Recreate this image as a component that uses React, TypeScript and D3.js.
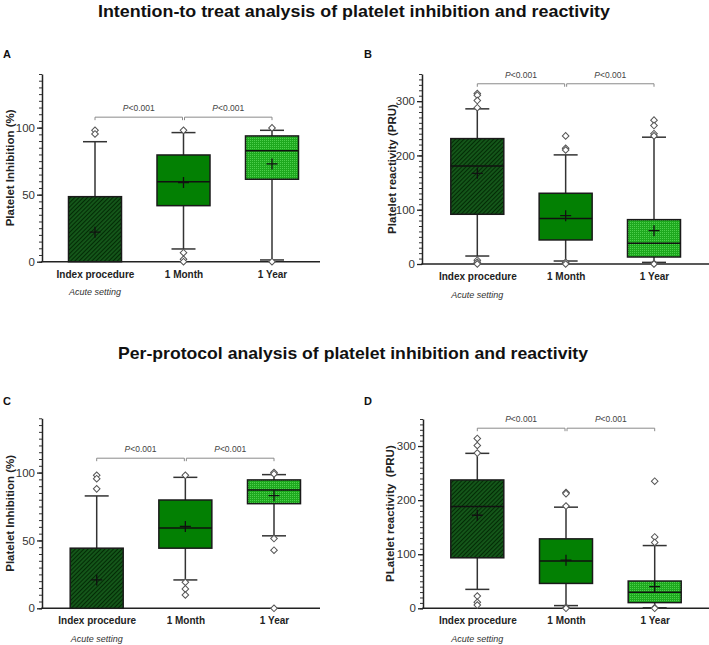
import React, { useEffect, useRef } from 'react';
import * as d3 from 'd3';

const groups = ['Index procedure', '1 Month', '1 Year'];
const inhibitionTicks = [0, 50, 100];
const reactivityTicks = [0, 100, 200, 300];
const pLabel = '<0.001';

// A: intention-to-treat, platelet inhibition (%)
const aLow = [0, 9.5, 1.3];
const aQ1 = [0, 41.8, 61.5];
const aMed = [0, 59.7, 82.8];
const aQ3 = [48.5, 79.6, 93.8];
const aHigh = [89.5, 96.3, 98];
const aMean = [22, 59, 72.9];
const aOut = [[98, 95.3], [98, 6.7, 1.8, 0], [99.8, 0]];

// B: intention-to-treat, platelet reactivity (PRU)
const bLow = [14.7, 5.5, 3];
const bQ1 = [91.6, 44.3, 12.9];
const bMed = [180.7, 83.6, 38];
const bQ3 = [231, 130.3, 81.7];
const bHigh = [285.8, 201, 233.6];
const bMean = [167, 89, 61.4];
const bOut = [[314, 311, 301, 288, 7, 3, 0], [236, 213, 210, 3, 0], [265, 255, 240, 236, 1, 0]];

// C: per-protocol, platelet inhibition (%)
const cLow = [0, 20.9, 53.4];
const cQ1 = [0, 44.3, 77.1];
const cMed = [0, 59.1, 87.2];
const cQ3 = [44.3, 79.8, 94.6];
const cHigh = [82.8, 96.5, 98.5];
const cMean = [20.9, 60.3, 83];
const cOut = [[98, 95.5, 88], [98, 19.2, 14.3, 9.8], [100, 99, 51.4, 42.8, 0]];

// D: per-protocol, platelet reactivity (PRU)
const dLow = [35, 5, 1];
const dQ1 = [93.4, 46, 10.5];
const dMed = [188.2, 87.3, 29.5];
const dQ3 = [237.3, 128.4, 50.4];
const dHigh = [286.5, 187, 116];
const dMean = [172, 89, 40];
const dOut = [[314, 301, 287, 22.7, 11, 6], [214, 212, 189, 2, 0], [235, 132, 121.7, 1, 0]];

const bracketValues = [107.8, 332, 110.6, 333];

const FONT = "'Liberation Sans', Arial, Helvetica, sans-serif";
const NARROW = "'Liberation Sans Narrow', 'Arial Narrow', 'Liberation Sans', sans-serif";
const fills = ['url(#hatch)', '#038003', 'url(#dots)'];

export default function App() {
  const ref = useRef<SVGSVGElement>(null);

  useEffect(() => {
    document.body.style.margin = '0';
    const svg = d3.select(ref.current);
    svg.selectAll('*').remove();

    const defs = svg.append('defs');
    const hatch = defs.append('pattern')
      .attr('id', 'hatch')
      .attr('patternUnits', 'userSpaceOnUse')
      .attr('width', 3).attr('height', 3)
      .attr('patternTransform', 'rotate(45)');
    hatch.append('rect').attr('width', 3).attr('height', 3).attr('fill', '#14571a');
    hatch.append('line').attr('x1', 0.5).attr('x2', 0.5).attr('y1', 0).attr('y2', 3)
      .attr('stroke', '#032b05').attr('stroke-width', 1.1);

    const dots = defs.append('pattern')
      .attr('id', 'dots')
      .attr('patternUnits', 'userSpaceOnUse')
      .attr('width', 2).attr('height', 2);
    dots.append('rect').attr('width', 2).attr('height', 2).attr('fill', '#1ea91e');
    dots.append('rect').attr('width', 1).attr('height', 1).attr('fill', '#4ccf4c');

    const panels = [
      { letter: 'A', ly: 58, axisX: 42, y0: 261.7, yTop: 74, right: 320, c0: 95, c2: 272, max: 140, ticks: inhibitionTicks, minor: 5,
        label: 'Platelet Inhibition (%)', labelX: 14, low: aLow, q1: aQ1, med: aMed, q3: aQ3, high: aHigh, mean: aMean, out: aOut, bracket: bracketValues[0] },
      { letter: 'B', ly: 58, axisX: 422, y0: 264, yTop: 74, right: 709, c0: 477.3, c2: 654, max: 350, ticks: reactivityTicks, minor: 10,
        label: 'Platelet reactivity (PRU)', labelX: 396, low: bLow, q1: bQ1, med: bMed, q3: bQ3, high: bHigh, mean: bMean, out: bOut, bracket: bracketValues[1] },
      { letter: 'C', ly: 405, axisX: 42, y0: 608.3, yTop: 418.3, right: 320, c0: 96.7, c2: 274, max: 140, ticks: inhibitionTicks, minor: 5,
        label: 'Platelet Inhibition (%)', labelX: 14, low: cLow, q1: cQ1, med: cMed, q3: cQ3, high: cHigh, mean: cMean, out: cOut, bracket: bracketValues[2] },
      { letter: 'D', ly: 405, axisX: 423, y0: 608.3, yTop: 419, right: 709, c0: 477.3, c2: 654.7, max: 350, ticks: reactivityTicks, minor: 10,
        label: 'PLatelet reactivity  (PRU)', labelX: 394, low: dLow, q1: dQ1, med: dMed, q3: dQ3, high: dHigh, mean: dMean, out: dOut, bracket: bracketValues[3] },
    ];

    svg.append('text')
      .attr('x', 354).attr('y', 17)
      .attr('text-anchor', 'middle')
      .attr('font-family', NARROW).attr('font-weight', 'bold').attr('font-size', 17)
      .attr('textLength', 512).attr('lengthAdjust', 'spacingAndGlyphs')
      .attr('fill', '#111')
      .text('Intention-to treat analysis of platelet inhibition and reactivity');

    svg.append('text')
      .attr('x', 353).attr('y', 359)
      .attr('text-anchor', 'middle')
      .attr('font-family', NARROW).attr('font-weight', 'bold').attr('font-size', 17)
      .attr('textLength', 470).attr('lengthAdjust', 'spacingAndGlyphs')
      .attr('fill', '#111')
      .text('Per-protocol analysis of platelet inhibition and reactivity');

    panels.forEach(p => {
      const g = svg.append('g');
      const y = d3.scaleLinear().domain([0, p.max]).range([p.y0, p.yTop]);
      const x = d3.scalePoint<string>().domain(groups).range([p.c0, p.c2]);
      const bw = 53;
      const cap = 24;

      g.append('text')
        .attr('x', p.axisX < 100 ? 3 : 364).attr('y', p.ly)
        .attr('font-family', NARROW).attr('font-weight', 'bold').attr('font-size', 11)
        .attr('fill', '#111')
        .text(p.letter);

      // minor ticks
      g.append('g')
        .attr('transform', `translate(${p.axisX},0)`)
        .call(d3.axisLeft(y).tickValues(d3.range(0, p.max + 0.01, p.minor)).tickSize(3).tickSizeOuter(0).tickFormat(() => ''))
        .call(s => s.select('.domain').remove())
        .call(s => s.selectAll('.tick line').attr('stroke', '#333').attr('stroke-width', 1));

      // major ticks + axis line
      g.append('g')
        .attr('transform', `translate(${p.axisX},0)`)
        .call(d3.axisLeft(y).tickValues(p.ticks).tickSize(5).tickSizeOuter(0).tickPadding(2))
        .call(s => s.select('.domain').attr('stroke', '#222').attr('stroke-width', 1.5))
        .call(s => s.selectAll('.tick line').attr('stroke', '#222').attr('stroke-width', 1.3))
        .call(s => s.selectAll('.tick text')
          .attr('fill', '#333')
          .attr('font-size', 11.5)
          .attr('font-family', FONT));

      g.append('line')
        .attr('x1', p.axisX - 0.75).attr('x2', p.right)
        .attr('y1', p.y0).attr('y2', p.y0)
        .attr('stroke', '#222').attr('stroke-width', 1.5);

      g.append('text')
        .attr('transform', `translate(${p.labelX},${(p.y0 + p.yTop) / 2}) rotate(-90)`)
        .attr('text-anchor', 'middle')
        .attr('font-family', FONT).attr('font-weight', 'bold').attr('font-size', 11.5)
        .attr('fill', '#222')
        .attr('xml:space', 'preserve')
        .style('white-space', 'pre')
        .text(p.label);

      // category labels
      g.append('g')
        .attr('transform', `translate(0,${p.y0})`)
        .call(d3.axisBottom(x).tickSize(0).tickPadding(9))
        .call(s => s.select('.domain').remove())
        .call(s => s.selectAll('.tick text')
          .attr('fill', '#222')
          .attr('font-size', 10)
          .attr('font-weight', 'bold')
          .attr('font-family', FONT));

      g.append('text')
        .attr('x', x(groups[0])!).attr('y', p.y0 + 33.5)
        .attr('text-anchor', 'middle')
        .attr('font-family', FONT).attr('font-style', 'italic').attr('font-size', 9)
        .attr('fill', '#333')
        .text('Acute setting');

      // brackets
      const by = y(p.bracket);
      for (let j = 0; j < 2; j++) {
        const xa = x(groups[j])! + (j === 1 ? 1 : 0);
        const xb = x(groups[j + 1])! - (j === 0 ? 1 : 0);
        g.append('path')
          .attr('d', `M${xa},${by + 3}V${by}H${xb}V${by + 3}`)
          .attr('fill', 'none').attr('stroke', '#8a8a8a').attr('stroke-width', 1);
        const t = g.append('text')
          .attr('x', (xa + xb) / 2).attr('y', by - 6)
          .attr('text-anchor', 'middle')
          .attr('font-family', FONT).attr('font-size', 8.5)
          .attr('fill', '#444');
        t.append('tspan').attr('font-style', 'italic').text('P');
        t.append('tspan').text(pLabel);
      }

      groups.forEach((grp, i) => {
        const cx = x(grp)!;
        const bx = g.append('g');
        // whiskers
        bx.append('line').attr('x1', cx).attr('x2', cx).attr('y1', y(p.q3[i])).attr('y2', y(p.high[i]))
          .attr('stroke', '#333').attr('stroke-width', 1.5);
        bx.append('line').attr('x1', cx - cap / 2).attr('x2', cx + cap / 2).attr('y1', y(p.high[i])).attr('y2', y(p.high[i]))
          .attr('stroke', '#333').attr('stroke-width', 1.5);
        if (p.low[i] < p.q1[i]) {
          bx.append('line').attr('x1', cx).attr('x2', cx).attr('y1', y(p.q1[i])).attr('y2', y(p.low[i]))
            .attr('stroke', '#333').attr('stroke-width', 1.5);
          bx.append('line').attr('x1', cx - cap / 2).attr('x2', cx + cap / 2).attr('y1', y(p.low[i])).attr('y2', y(p.low[i]))
            .attr('stroke', '#333').attr('stroke-width', 1.5);
        }
        bx.append('rect')
          .attr('x', cx - bw / 2).attr('y', y(p.q3[i]))
          .attr('width', bw).attr('height', y(p.q1[i]) - y(p.q3[i]))
          .attr('fill', fills[i]).attr('stroke', '#1a1a1a').attr('stroke-width', 1.5);
        if (p.med[i] > p.q1[i]) {
          bx.append('line').attr('x1', cx - bw / 2).attr('x2', cx + bw / 2).attr('y1', y(p.med[i])).attr('y2', y(p.med[i]))
            .attr('stroke', '#111').attr('stroke-width', 1.5);
        }
        const my = y(p.mean[i]);
        bx.append('path')
          .attr('d', `M${cx - 5.5},${my}H${cx + 5.5}M${cx},${my - 5.5}V${my + 5.5}`)
          .attr('stroke', '#111').attr('stroke-width', 1.3);
        p.out[i].forEach(v => {
          bx.append('path')
            .attr('transform', `translate(${cx},${y(v)}) rotate(45)`)
            .attr('d', d3.symbol(d3.symbolSquare).size(22)())
            .attr('fill', '#fff').attr('stroke', '#555').attr('stroke-width', 1);
        });
      });
    });
  }, []);

  return <svg ref={ref} width={709} height={645} style={{ display: 'block', background: '#fff' }} />;
}
